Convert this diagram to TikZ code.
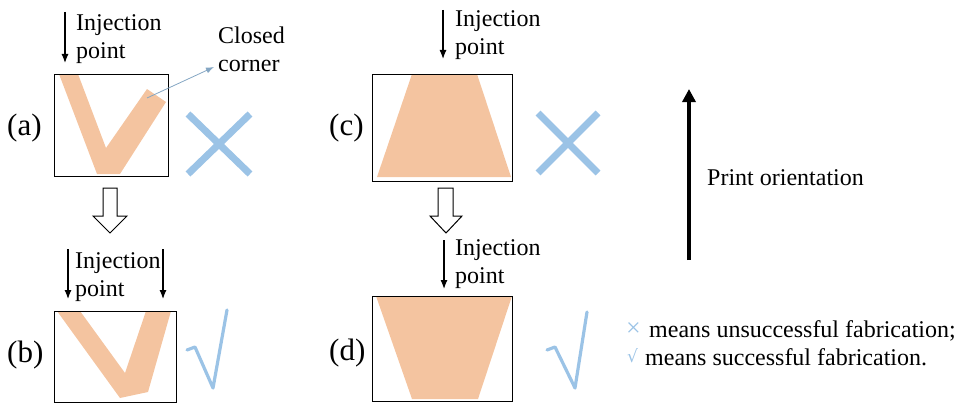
\documentclass[tikz,border=0pt]{standalone}
\usepackage{fontspec}
\setmainfont{Liberation Serif}
\newfontfamily\serifface{Liberation Serif}
\newfontfamily\symfont{DejaVu Sans}
\usetikzlibrary{arrows.meta}
\definecolor{peach}{RGB}{244,196,160}
\definecolor{skyb}{RGB}{155,195,230}
\tikzset{
  frame/.style={draw=black,line width=1.3pt,fill=none,inner sep=0pt,anchor=north west},
  shapefill/.style={fill=peach,draw=none},
  inj/.style={line width=1.2pt,-{Latex[length=9pt,width=7pt]}},
  lbl/.style={font=\serifface\fontsize{24}{28}\selectfont,inner sep=0pt,align=left},
  panel/.style={font=\serifface\fontsize{31}{34}\selectfont,inner sep=0pt},
  crossmark/.style={draw=skyb,line width=7pt},
  checkmark/.style={draw=skyb,line width=3.2pt,line join=round,line cap=round},
  hollow/.style={draw=black,line width=1pt,fill=white},
}
\begin{document}
\begin{tikzpicture}[x=1pt,y=-1pt]
\useasboundingbox (0,0) rectangle (968,404);
% ---------- (a) ----------
\fill[shapefill] (59,74) -- (78,74) -- (106,148) -- (147,89) -- (166,102) -- (120,174) -- (97,174) -- cycle;
\node[frame,minimum width=114pt,minimum height=102pt] (boxa) at (54,74) {};
\node[panel,anchor=west] (la) at (7,128) {(a)};
\node[lbl,anchor=west] (inja) at (76,39) {Injection\\point};
\coordinate (ia1) at (65,12);
\coordinate (ia2) at (65,63);
\draw[inj] (ia1) -- (ia2);
\node[lbl,anchor=west] (closed) at (218,49) {Closed\\corner};
\coordinate (cc) at (147,98);
\coordinate (ccend) at (214,67);
\draw[draw=skyb!85!black,line width=0.8pt,-{Latex[length=8pt,width=6pt]}] (cc) -- (ccend);
\draw[crossmark] (188,114) -- (250,174) (250,114) -- (188,174);
% hollow arrow a -> b
\draw[hollow] (103,188) -- (117,188) -- (117,216) -- (127,216) -- (110,233) -- (93,216) -- (103,216) -- cycle;
% ---------- (b) ----------
\fill[shapefill] (57,311) -- (80,311) -- (125,373) -- (146,311) -- (171,311) -- (148,392) -- (120,398) -- cycle;
\node[frame,minimum width=122pt,minimum height=91pt] (boxb) at (54,311) {};
\node[panel,anchor=west] (lb) at (7,355) {(b)};
\node[lbl,anchor=west] (injb) at (75,277) {Injection\\point};
\coordinate (ib1) at (68,249);
\coordinate (ib2) at (68,299);
\coordinate (ib3) at (163,249);
\coordinate (ib4) at (163,299);
\draw[inj] (ib1) -- (ib2);
\draw[inj] (ib3) -- (ib4);
\draw[checkmark] (187,350) -- (195,347) -- (213,388) -- (227,310);
% ---------- (c) ----------
\fill[shapefill] (412,74) -- (477,74) -- (511,177) -- (377,177) -- cycle;
\node[frame,minimum width=140pt,minimum height=107pt] (boxc) at (372,74) {};
\node[panel,anchor=west] (lc) at (329,128) {(c)};
\node[lbl,anchor=west] (injc) at (455,35) {Injection\\point};
\coordinate (ic1) at (443,10);
\coordinate (ic2) at (443,59);
\draw[inj] (ic1) -- (ic2);
\draw[crossmark] (538,113) -- (598,173) (598,113) -- (538,173);
% hollow arrow c -> d
\draw[hollow] (438,188) -- (453,188) -- (453,216) -- (462,216) -- (446,233) -- (430,216) -- (438,216) -- cycle;
% ---------- (d) ----------
\fill[shapefill] (376,296) -- (512,296) -- (478,399) -- (412,399) -- cycle;
\node[frame,minimum width=140pt,minimum height=105pt] (boxd) at (372,296) {};
\node[panel,anchor=west] (ld) at (329,353) {(d)};
\node[lbl,anchor=west] (injd) at (455,264) {Injection\\point};
\coordinate (id1) at (444,240);
\coordinate (id2) at (444,289);
\draw[inj] (id1) -- (id2);
\draw[checkmark] (547,350) -- (555,347) -- (575,388) -- (587,312);
% ---------- print orientation ----------
\coordinate (po1) at (689,260);
\coordinate (po2) at (689,89);
\draw[line width=4pt,-{Triangle[length=13pt,width=13pt]}] (po1) -- (po2);
\node[lbl,anchor=west] (pot) at (707,178) {Print orientation};
% ---------- legend ----------
\node[lbl,anchor=west,text=skyb] (lx) at (626,330) {\fontsize{26}{28}\selectfont ×};
\node[lbl,anchor=west] (lt1) at (649,331) {means unsuccessful fabrication;};
\node[lbl,anchor=west,text=skyb] (lv) at (627,356) {\symfont\fontsize{17}{20}\selectfont √};
\node[lbl,anchor=west] (lt2) at (645,357) {means successful fabrication.};
\end{tikzpicture}
\end{document}
